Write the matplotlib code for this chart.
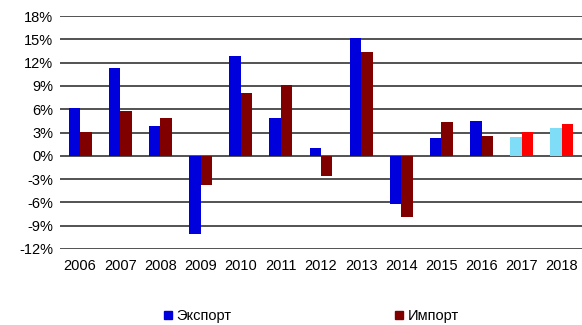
import matplotlib
matplotlib.use("Agg")
import matplotlib.pyplot as plt
import numpy as np
from matplotlib.patches import Patch

plt.rcParams['font.family'] = ['Liberation Sans', 'DejaVu Sans']

years = ["2006", "2007", "2008", "2009", "2010", "2011", "2012",
         "2013", "2014", "2015", "2016", "2017", "2018"]
export = [6.2, 11.3, 3.8, -10.1, 12.8, 4.85, 1.0, 15.2, -6.25, 2.3, 4.45, 2.4, 3.55]
imports = [3.1, 5.75, 4.85, -3.8, 8.05, 9.1, -2.6, 13.4, -7.9, 4.4, 2.5, 3.05, 4.05]
forecast_from = 11  # 2017 and later drawn in lighter colours

export_colors = ['#0000DD'] * forecast_from + ['#80DDF8'] * (len(years) - forecast_from)
import_colors = ['#800000'] * forecast_from + ['#FF0000'] * (len(years) - forecast_from)

fig = plt.figure(figsize=(5.82, 3.25), dpi=100)
ax = fig.add_axes([60 / 582, 1 - 249 / 325, 522 / 582, 233 / 325])

x = np.arange(len(years))
w = 0.285
ax.bar(x - w / 2, export, width=w, color=export_colors, zorder=3)
ax.bar(x + w / 2, imports, width=w, color=import_colors, zorder=3)

ax.set_xlim(-0.5, len(years) - 0.5)
ax.set_ylim(-12, 18)
yt = np.arange(-12, 19, 3)
ax.set_yticks(yt)
ax.set_yticklabels([f"{v}%" for v in yt], fontsize=10.5)
ax.set_xticks(x)
ax.set_xticklabels(years, fontsize=10.5)
ax.tick_params(axis='both', length=0)
ax.tick_params(axis='x', pad=7)
ax.tick_params(axis='y', pad=5)
for s in ax.spines.values():
    s.set_visible(False)
ax.yaxis.grid(True, color='#444444', linewidth=1.3, zorder=0)
ax.set_axisbelow(True)

handles = [Patch(color='#0000DD', label='Экспорт'), Patch(color='#800000', label='Импорт')]
fig.legend(handles=handles, ncol=2, loc='center', bbox_to_anchor=(0.535, 0.027),
           frameon=False, fontsize=10.5, handlelength=0.55, handleheight=0.55,
           handletextpad=0.3, columnspacing=11.2)

fig.savefig("out.png", dpi=100)
